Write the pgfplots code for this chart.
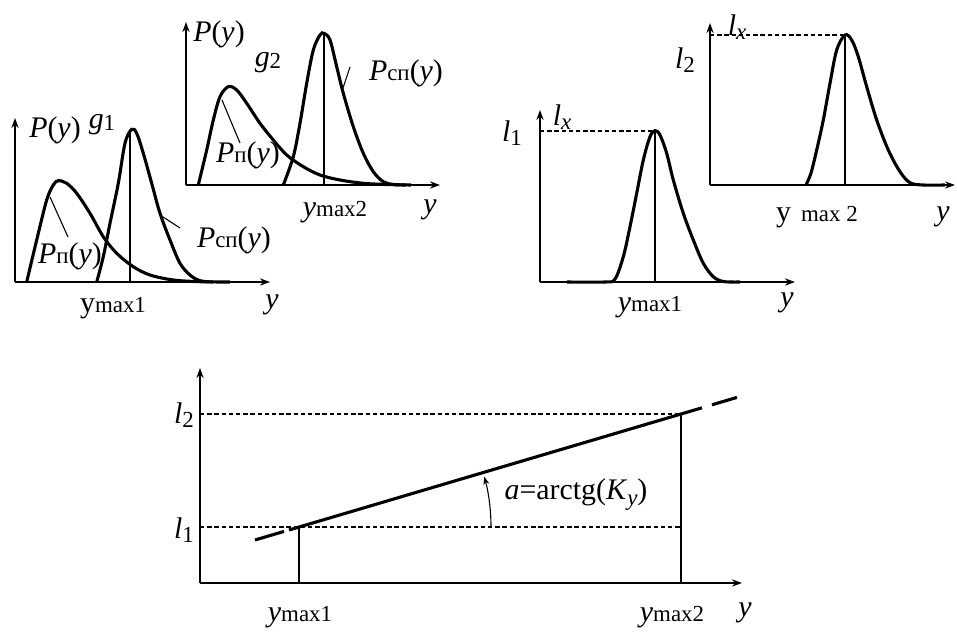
\documentclass[border=0pt]{standalone}
\usepackage{fontspec}
\setmainfont{Liberation Serif}
\usepackage{pgfplots}
\pgfplotsset{compat=1.18}
\usetikzlibrary{arrows.meta}

% sizes of the labels and of their indices
\newcommand\lab{\fontsize{15}{16}\selectfont}
\newcommand\sub[1]{{\fontsize{11.5}{12}\selectfont #1}}

\pgfplotsset{
  scheme/.style={
    axis lines=left,
    x=0.5bp, y=0.5bp,
    xmin=0, ymin=0,
    xtick=\empty, ytick=\empty,
    clip=false,
    anchor=south west,
    axis line style={line width=0.75bp, -{Stealth[length=5bp,width=3.6bp]}},
  },
  curve/.style={line width=1.55bp, smooth, tension=0.55, mark=none},
  thinline/.style={line width=0.55bp, mark=none},
  guide/.style={line width=0.55bp, dash pattern=on 2.2bp off 1.4bp, mark=none},
}

\begin{document}
\begin{tikzpicture}
\useasboundingbox (0,0) rectangle (478.5bp,316bp);

% ---------- distributions for the first level g1 ----------
\begin{axis}[scheme, at={(7.5bp,175bp)}, xmax=255, ymax=164]
  % P_p(y)
  \addplot[curve] coordinates {(11.7,0) (21.7,42) (31.7,82) (38.3,97) (43.3,101.3)
    (51.7,98.7) (61.7,88.7) (75,68.7) (88.3,45.3) (101.7,28.7) (118.3,15.3)
    (135,7) (158.3,2) (185,0.3) (215,0)};
  % P_sp(y)
  \addplot[curve] coordinates {(81.7,0) (88.3,25.3) (95,58.7) (103.3,98.7)
    (110,138.7) (116.7,152.7) (121.7,148.7) (128.3,128.7) (136.7,98.7) (145,68.7)
    (155,42) (165,18.7) (175,7) (185,1.3) (198,0)};
  \addplot[thinline] coordinates {(115,0) (115,150)};
  \addplot[thinline] coordinates {(35,85) (53,45)};
  \addplot[thinline] coordinates {(145,67) (165,54)};
  \node[font=\lab] at (axis cs:40,152) {\textit{P}(\textit{y})};
  \node[font=\lab] at (axis cs:87,157) {\textit{g}\raisebox{-1bp}{\sub{1}}};
  \node[font=\lab] at (axis cs:55,26) {\textit{P}\sub{п}(\textit{y})};
  \node[font=\lab] at (axis cs:219,42) {\textit{P}\sub{сп}(\textit{y})};
  \node[font=\lab] at (axis cs:98,-26) {y\sub{max1}};
  \node[font=\lab] at (axis cs:257,-23) {\textit{y}};
\end{axis}

% ---------- distributions for the second level g2 ----------
\begin{axis}[scheme, at={(93bp,223.5bp)}, xmax=254, ymax=163]
  \addplot[curve] coordinates {(12.3,0) (20.7,35) (27.3,65) (34,88.3) (42.3,98.3)
    (50.7,95) (60.7,81.7) (74,61.7) (87.3,45) (100.7,30) (117.3,18.3) (134,10)
    (154,5) (177.3,1.7) (200.7,0.5) (225,0)};
  \addplot[curve] coordinates {(97.3,0) (107.3,28.3) (114,61.7) (120.7,101.7)
    (127.3,135) (134,150) (138,151.7) (144,145) (150.7,118.3) (157.3,91.7)
    (167.3,58.3) (177.3,31.7) (187.3,13.3) (197.3,3.3) (207.3,0.5) (220,0)};
  \addplot[thinline] coordinates {(138,0) (138,151)};
  \addplot[thinline] coordinates {(36,85) (54,42)};
  \addplot[thinline] coordinates {(157,97) (164,118)};
  \node[font=\lab] at (axis cs:33,151) {\textit{P}(\textit{y})};
  \node[font=\lab] at (axis cs:82,122) {\textit{g}\raisebox{-1bp}{\sub{2}}};
  \node[font=\lab] at (axis cs:62,30) {\textit{P}\sub{п}(\textit{y})};
  \node[font=\lab] at (axis cs:220,112) {\textit{P}\sub{сп}(\textit{y})};
  \node[font=\lab] at (axis cs:149,-27) {\textit{y}\sub{max2}};
  \node[font=\lab] at (axis cs:244,-25) {\textit{y}};
\end{axis}

% ---------- output signal for level 1 ----------
\begin{axis}[scheme, at={(270bp,175bp)}, xmax=255, ymax=172]
  \addplot[curve] coordinates {(27,0) (65,0) (75,3) (83.3,25.3) (90,55.3)
    (96.7,88.7) (103.3,122) (110,145.3) (115,151.3) (120,147) (126.7,128.7)
    (133.3,102) (143.3,68.7) (153.3,42) (163.3,18.7) (173.3,5.3) (183.3,0.5) (200,0)};
  \addplot[guide] coordinates {(0,151) (115,151)};
  \addplot[thinline] coordinates {(115,0) (115,151)};
  \node[font=\lab] at (axis cs:-28,149) {\textit{l}\raisebox{-2bp}{\sub{1}}};
  \node[font=\lab] at (axis cs:22,165) {\textit{l}\raisebox{-2bp}{\sub{\textit{x}}}};
  \node[font=\lab] at (axis cs:110,-25) {\textit{y}\sub{max1}};
  \node[font=\lab] at (axis cs:247,-21) {\textit{y}};
\end{axis}

% ---------- output signal for level 2 ----------
\begin{axis}[scheme, at={(355bp,223.5bp)}, xmax=245, ymax=162]
  \addplot[curve] coordinates {(96,0) (101,12) (106.7,35) (113.3,65) (120,101.7)
    (126.7,135) (135,150) (141.7,145) (148.3,128.3) (156.7,98.3) (166.7,65)
    (178.3,35) (190,13.3) (200,2.3) (213,0) (235,0)};
  \addplot[guide] coordinates {(0,150) (135,150)};
  \addplot[thinline] coordinates {(135,0) (135,150)};
  \node[font=\lab] at (axis cs:-25,125) {\textit{l}\raisebox{-2bp}{\sub{2}}};
  \node[font=\lab] at (axis cs:27,158) {\textit{l}\raisebox{-2bp}{\sub{\textit{x}}}};
  \node[font=\lab] at (axis cs:107,-32) {y\,\,\sub{max 2}};
  \node[font=\lab] at (axis cs:233,-32) {\textit{y}};
\end{axis}

% ---------- conversion characteristic ----------
\begin{axis}[scheme, at={(100bp,24.5bp)}, xmax=542, ymax=215]
  \addplot[line width=1.55bp] coordinates {(55,43.0) (84,51.6)};
  \addplot[line width=1.55bp] coordinates {(89,53.0) (502,175.2)};
  \addplot[line width=1.55bp] coordinates {(512,178.2) (537,185.6)};
  \addplot[guide] coordinates {(0,169) (481,169)};
  \addplot[guide] coordinates {(0,56) (481,56)};
  \addplot[thinline] coordinates {(99,0) (99,56)};
  \addplot[thinline] coordinates {(481,0) (481,169)};
  \draw[line width=0.55bp, -{Stealth[length=4bp,width=3bp]}]
    (axis cs:291,56) arc[start angle=0, end angle=15.2, radius=96bp];
  \node[font=\lab] at (axis cs:376,88) {\textit{a}=arctg(\textit{K}\raisebox{-3bp}{\sub{\textit{y}}})};
  \node[font=\lab] at (axis cs:-16,168) {\textit{l}\raisebox{-2bp}{\sub{2}}};
  \node[font=\lab] at (axis cs:-16,53) {\textit{l}\raisebox{-2bp}{\sub{1}}};
  \node[font=\lab] at (axis cs:100,-34) {\textit{y}\sub{max1}};
  \node[font=\lab] at (axis cs:472,-34) {\textit{y}\sub{max2}};
  \node[font=\lab] at (axis cs:545,-30) {\textit{y}};
\end{axis}
\end{tikzpicture}
\end{document}
